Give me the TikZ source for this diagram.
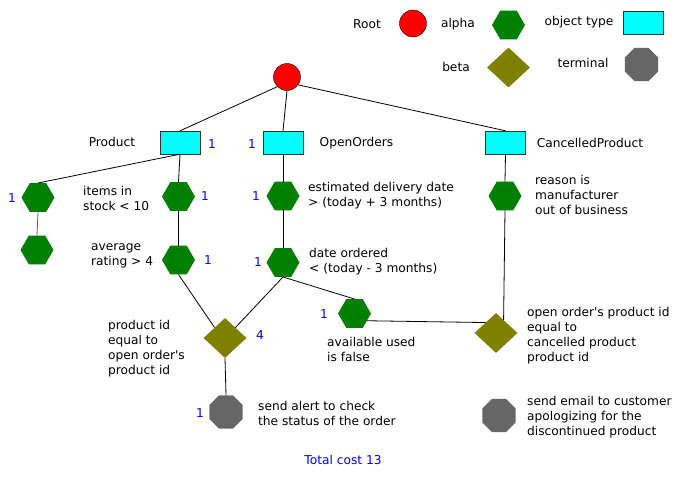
\documentclass[tikz,border=0pt]{standalone}
\usepackage{fontspec}
\setmainfont{DejaVu Sans}
\usetikzlibrary{shapes.geometric,positioning}
\definecolor{rootred}{RGB}{255,0,0}
\definecolor{alphagreen}{RGB}{0,128,0}
\definecolor{betaolive}{RGB}{128,128,0}
\definecolor{termgray}{RGB}{102,102,102}
\definecolor{objcyan}{RGB}{0,255,255}
\definecolor{costblue}{RGB}{0,0,255}

\begin{document}
\begin{tikzpicture}[x=1pt, y=-1pt, font=\fontsize{12.2}{15}\selectfont,
  rootnode/.style={circle, draw=black, fill=rootred, minimum size=27pt, inner sep=0pt},
  alphanode/.style={regular polygon, regular polygon sides=6, fill=alphagreen, minimum size=33pt, inner sep=0pt},
  betanode/.style={diamond, fill=betaolive, minimum width=43pt, minimum height=40pt, inner sep=0pt},
  termnode/.style={regular polygon, regular polygon sides=8, fill=termgray, minimum size=36pt, inner sep=0pt},
  objnode/.style={rectangle, draw=black!80, fill=objcyan, minimum width=40pt, minimum height=23pt, inner sep=0pt},
  cost/.style={text=costblue, inner sep=0pt},
  txt/.style={align=left, anchor=west, inner sep=0pt},
  link/.style={draw=black, line width=0.8pt}]
  \path[use as bounding box, fill=white] (0,0) rectangle (683,477);

  % legend
  \node (lgroottxt) at (367,24) {Root};
  \node[rootnode] (lgroot) at (413,23.5) {};
  \node (lgalphatxt) at (458,24) {alpha};
  \node[alphanode] (lgalpha) at (508.5,25) {};
  \node (lgobjtxt) at (579,22) {object type};
  \node[objnode] (lgobj) at (643,22.5) {};
  \node (lgbetatxt) at (456,67) {beta};
  \node[betanode] (lgbeta) at (508.5,67.5) {};
  \node (lgtermtxt) at (583,63) {terminal};
  \node[termnode] (lgterm) at (641.5,64.5) {};

  % object types
  \node[rootnode] (root) at (287,77) {};
  \node[objnode] (prod) at (180,142.5) {};
  \node (prodtxt) at (112,142) {Product};
  \node[objnode] (open) at (283,142.5) {};
  \node (opentxt) at (356.5,143) {OpenOrders};
  \node[objnode] (canc) at (505.5,142.5) {};
  \node (canctxt) at (590,143) {CancelledProduct};

  % alpha nodes
  \node[alphanode] (stock) at (38,197.5) {};
  \node[txt] (stocktxt) at (83,198) {items in\\stock < 10};
  \node[alphanode] (rating) at (37,250) {};
  \node[txt] (ratingtxt) at (91,256) {average\\rating > 4};
  \node[alphanode] (prodA) at (178.5,196.5) {};
  \node[alphanode] (prodB) at (178.5,260) {};
  \node[alphanode] (delivery) at (283,196) {};
  \node[txt] (deliverytxt) at (308,195.5) {estimated delivery date\\> (today + 3 months)};
  \node[alphanode] (ordered) at (283,262.5) {};
  \node[txt] (orderedtxt) at (309,262) {date ordered\\< (today - 3 months)};
  \node[alphanode] (reason) at (505,196) {};
  \node[txt] (reasontxt) at (535,195) {reason is\\manufacturer\\out of business};
  \node[alphanode] (avail) at (354.5,313.5) {};
  \node[txt] (availtxt) at (327,349.5) {available used\\is false};

  % beta nodes
  \node[betanode] (joinA) at (225,338) {};
  \node[txt] (joinAtxt) at (108,349) {product id\\equal to\\open order\textquotesingle s\\product id};
  \node[betanode] (joinB) at (496,333) {};
  \node[txt] (joinBtxt) at (527,336) {open order\textquotesingle s product id\\equal to\\cancelled product\\product id};

  % terminals
  \node[termnode] (alert) at (226,412) {};
  \node[txt] (alerttxt) at (258,413) {send alert to check\\the status of the order};
  \node[termnode] (email) at (499,415.5) {};
  \node[txt] (emailtxt) at (527,417) {send email to customer\\apologizing for the\\discontinued product};

  % costs
  \node[cost] (cprod) at (212,144) {1};
  \node[cost] (copen) at (252,144) {1};
  \node[cost] (cstock) at (12,198) {1};
  \node[cost] (cprodA) at (205,196) {1};
  \node[cost] (cprodB) at (208,260) {1};
  \node[cost] (cdelivery) at (256,196) {1};
  \node[cost] (cordered) at (258,262) {1};
  \node[cost] (cjoinA) at (260,335) {4};
  \node[cost] (cavail) at (324,314) {1};
  \node[cost] (calert) at (200,413) {1};
  \node[cost] (total) at (343,460) {Total cost 13};

  % connections
  \draw[link] (root.225) -- (prod.north);
  \draw[link] (root.south) -- (open.north);
  \draw[link] (root.-35) -- (canc.north);
  \draw[link] (prod.south) -- (stock.north);
  \draw[link, draw=black!60] (stock.south) -- (rating.north);
  \draw[link] (prod.south) -- (prodA.north);
  \draw[link] (prodA.south) -- (prodB.north);
  \draw[link] (open.south) -- (delivery.north);
  \draw[link] (delivery.south) -- (ordered.north);
  \draw[link] (canc.south) -- (reason.north);
  \draw[link] (prodB.south) -- (joinA.135);
  \draw[link] (ordered.south) -- (joinA.45);
  \draw[link] (ordered.south) -- (avail.north);
  \draw[link] (avail.-30) -- (joinB.135);
  \draw[link] (reason.south) -- (joinB.60);
  \draw[link] (joinA.south) -- (alert.north);
\end{tikzpicture}
\end{document}
